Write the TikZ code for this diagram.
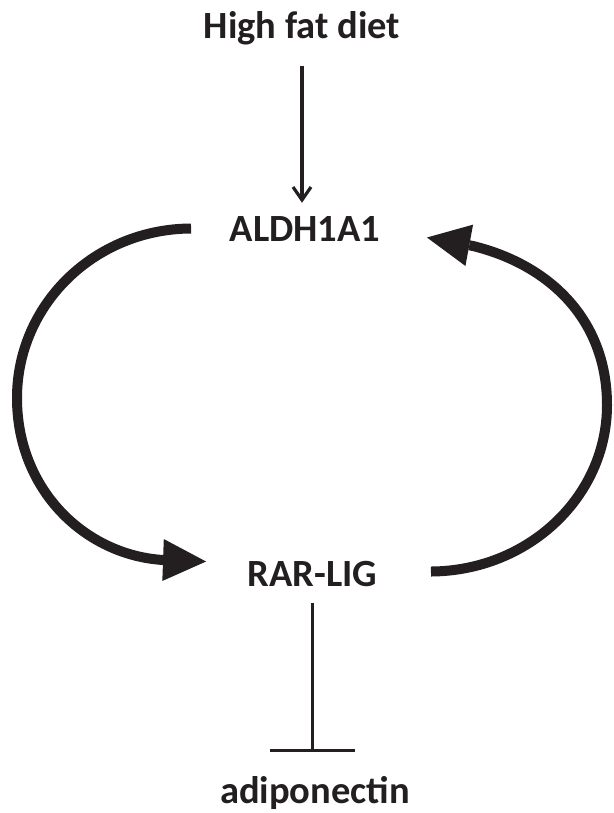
\documentclass[tikz,border=0pt]{standalone}
\usepackage{fontspec}
\setmainfont{Carlito}
\usetikzlibrary{arrows.meta}
\definecolor{ink}{RGB}{35,31,32}
\begin{document}
\begin{tikzpicture}[x=1pt,y=-1pt,
  lbl/.style={inner sep=0pt, anchor=base, text=ink, font=\fontsize{38.5}{42}\selectfont\bfseries},
  thinarr/.style={draw=ink, line width=3.2pt, -{Straight Barb[length=13pt,width=18pt]}},
  inhib/.style={draw=ink, line width=3.2pt, -{Bar[width=85pt]}},
  bigarr/.style={draw=ink, line width=10pt, -{Triangle[length=43pt,width=42pt,line width=0pt]}}]
\useasboundingbox (0,0) rectangle (613,813);
\node[lbl] (hfd) at (302,39) {High fat diet};
\node[lbl] (aldh) at (305,241) {ALDH1A1};
\node[lbl] (rar) at (312.5,586) {RAR-LIG};
\node[lbl] (adipo) at (315,803) {adiponectin};
\coordinate (lm) at (17,398);
\coordinate (rm) at (607,405);
\draw[thinarr, shorten <=20pt, shorten >=13pt] (hfd.south) -- (hfd.south |- aldh.north);
\draw[inhib, shorten <=17pt, shorten >=24pt] (rar.south) -- (rar.south |- adipo.north);
\draw[bigarr] ([xshift=-38.5pt]aldh.west) .. controls (94,229) and (17,305) .. (lm)
  .. controls (17,490) and (85,555) .. (163,560) -- ([xshift=-41.5pt,yshift=12pt]rar.west);
\draw[bigarr] ([xshift=53.5pt,yshift=2pt]rar.east) .. controls (528,571) and (607,497) .. (rm)
  .. controls (607,320) and (550,265) .. (473,246) -- ([xshift=46.5pt,yshift=-9pt]aldh.east);
\end{tikzpicture}
\end{document}
